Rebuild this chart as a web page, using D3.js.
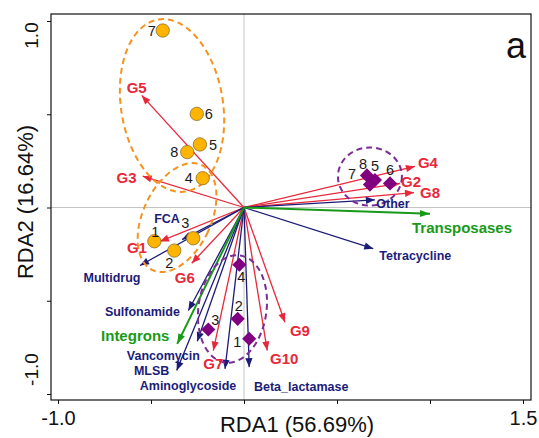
<!DOCTYPE html>
<html>
<head>
<meta charset="utf-8">
<script src="https://cdnjs.cloudflare.com/ajax/libs/d3/7.8.5/d3.min.js"></script>
<style>
  body { margin: 0; background: #fff; }
  svg { display: block; font-family: "Liberation Sans", Arial, sans-serif; }
</style>
</head>
<body>
<div id="chart"></div>
<script>
// Sample scores (two sample groups, 8 samples each)
const sampleIds = [1, 2, 3, 4, 5, 6, 7, 8];
const groupAx = [-0.482, -0.375, -0.273, -0.222, -0.237, -0.254, -0.437, -0.305];
const groupAy = [-0.181, -0.231, -0.165, 0.157, 0.338, 0.502, 0.949, 0.297];
const groupBx = [0.028, -0.034, -0.192, -0.025, 0.704, 0.785, 0.677, 0.661];
const groupBy = [-0.704, -0.597, -0.654, -0.307, 0.147, 0.129, 0.123, 0.172];

// Genera (red arrows)
const genera = ["G1", "G2", "G3", "G4", "G5", "G6", "G7", "G8", "G9", "G10"];
const generaX = [-0.452, 0.839, -0.545, 0.919, -0.550, -0.281, -0.165, 0.914, 0.220, 0.125];
const generaY = [-0.182, 0.129, 0.168, 0.220, 0.601, -0.299, -0.767, 0.080, -0.615, -0.767];

// ARG types (blue arrows)
const argTypes = ["Other", "Tetracycline", "FCA", "Multidrug", "Sulfonamide",
  "Vancomycin", "MLSB", "Aminoglycoside", "Beta_lactamase"];
const argX = [0.704, 0.695, -0.333, -0.559, -0.299, -0.251, -0.362, -0.102, 0.028];
const argY = [0.041, -0.221, -0.172, -0.311, -0.552, -0.717, -0.874, -0.865, -0.856];

// Mobile genetic elements (green arrows)
const mges = ["Transposases", "Integrons"];
const mgeX = [1.000, -0.359];
const mgeY = [-0.034, -0.731];

// Group ellipses: centre, semi-axes (data units), tilt in degrees
const ellipseCx = [-0.387, -0.360, 0.677, -0.062];
const ellipseCy = [0.547, -0.054, 0.166, -0.544];
const ellipseA = [0.274, 0.183, 0.172, 0.183];
const ellipseB = [0.467, 0.311, 0.156, 0.290];
const ellipseTilt = [-9, 25, 0, 8];
const ellipseGroup = ["A", "A", "B", "B"];

// Axis ticks
const xTicks = [-1, -0.5, 0, 0.5, 1, 1.5];
const yTicks = [-1, -0.5, 0, 0.5, 1];
const xTickLabels = ["-1.0", "", "", "", "", "1.5"];
const yTickLabels = ["-1.0", "", "", "", "1.0"];

// label nudges (px) so text sits where the original put it
const nudgeA = [[1, -9], [-5, 12], [-8, -15], [-14, 0], [13, 0], [12, 0], [-11, 0], [-13, 0]];
const nudgeB = [[-12, 3], [1, -13], [7, -10], [2, 12], [0, -14], [0, -14], [-18, -11], [-4, -12]];
const nudgeGenera = [[-23, 6], [11, -2], [-16, 1], [13, -4], [-5, -8], [-7, 14], [0, 13], [16, 0], [15, 8], [17, 8]];
const nudgeArg = [[18, 4], [42, 7], [-15, -21], [-28, 12], [-46, 1], [-34, 14], [-25, 0], [-37, 17], [52, 19]];
const nudgeMge = [[32, 14], [-42, -8]];

const width = 539, height = 438;
const red = "#e8283a", navy = "#1c1c78", green = "#179a17";
const orange = "#f5931e", purple = "#7b2d94";

const x = d3.scaleLinear().domain([-1, 1.5]).range([58, 523]);
const y = d3.scaleLinear().domain([-1, 1]).range([394, 21]);
const box = { left: 51, right: 531, top: 14, bottom: 400 };

const svg = d3.select("#chart").append("svg")
  .attr("width", width)
  .attr("height", height);

// arrowheads
const defs = svg.append("defs");
[["red", red, 9], ["navy", navy, 9], ["green", green, 10]].forEach(([id, col, len]) => {
  defs.append("marker")
    .attr("id", "head-" + id)
    .attr("viewBox", "-12 -6 12 12")
    .attr("refX", 0).attr("refY", 0)
    .attr("markerWidth", 12).attr("markerHeight", 12)
    .attr("markerUnits", "userSpaceOnUse")
    .attr("orient", "auto")
    .append("path")
    .attr("d", `M${-len},-3.6L0,0L${-len},3.6Z`)
    .attr("fill", col);
});

// zero lines
svg.append("line")
  .attr("x1", x(0)).attr("x2", x(0))
  .attr("y1", box.top).attr("y2", box.bottom)
  .attr("stroke", "#c4c4c4").attr("stroke-width", 1);
svg.append("line")
  .attr("x1", box.left).attr("x2", box.right)
  .attr("y1", y(0)).attr("y2", y(0))
  .attr("stroke", "#c4c4c4").attr("stroke-width", 1);

// arrows
function drawArrows(names, xs, ys, col, id, sw) {
  svg.append("g").selectAll("line")
    .data(names)
    .enter()
    .append("line")
    .attr("x1", x(0)).attr("y1", y(0))
    .attr("x2", (d, i) => x(xs[i]))
    .attr("y2", (d, i) => y(ys[i]))
    .attr("stroke", col)
    .attr("stroke-width", sw)
    .attr("marker-end", `url(#head-${id})`);
}
drawArrows(genera, generaX, generaY, red, "red", 1.3);
drawArrows(argTypes, argX, argY, navy, "navy", 1.3);
drawArrows(mges, mgeX, mgeY, green, "green", 2);

// ellipses
svg.append("g").selectAll("ellipse")
  .data(ellipseCx)
  .enter()
  .append("ellipse")
  .attr("transform", (d, i) => `translate(${x(d)},${y(ellipseCy[i])}) rotate(${ellipseTilt[i]})`)
  .attr("rx", (d, i) => x(ellipseA[i]) - x(0))
  .attr("ry", (d, i) => y(0) - y(ellipseB[i]))
  .attr("fill", "none")
  .attr("stroke", (d, i) => ellipseGroup[i] === "A" ? orange : purple)
  .attr("stroke-width", 2)
  .attr("stroke-dasharray", "6,4");

// sample points
svg.append("g").selectAll("path")
  .data(sampleIds)
  .enter()
  .append("path")
  .attr("d", d3.symbol().type(d3.symbolCircle).size(140))
  .attr("transform", (d, i) => `translate(${x(groupAx[i])},${y(groupAy[i])})`)
  .attr("fill", "#ffb400")
  .attr("stroke", "#8a7030")
  .attr("stroke-width", 0.8);

svg.append("g").selectAll("path")
  .data(sampleIds)
  .enter()
  .append("path")
  .attr("d", d3.symbol().type(d3.symbolSquare).size(100))
  .attr("transform", (d, i) => `translate(${x(groupBx[i])},${y(groupBy[i])}) rotate(45)`)
  .attr("fill", "#800080");

// sample labels
function sampleLabels(xs, ys, nudge) {
  svg.append("g").selectAll("text")
    .data(sampleIds)
    .enter()
    .append("text")
    .attr("x", (d, i) => x(xs[i]) + nudge[i][0])
    .attr("y", (d, i) => y(ys[i]) + nudge[i][1])
    .attr("dy", "0.36em")
    .attr("text-anchor", "middle")
    .attr("font-size", 14.5)
    .attr("fill", "#1a1a1a")
    .text(d => d);
}
sampleLabels(groupAx, groupAy, nudgeA);
sampleLabels(groupBx, groupBy, nudgeB);

// arrow labels
function arrowLabels(names, xs, ys, nudge, col, size) {
  svg.append("g").selectAll("text")
    .data(names)
    .enter()
    .append("text")
    .attr("x", (d, i) => x(xs[i]) + nudge[i][0])
    .attr("y", (d, i) => y(ys[i]) + nudge[i][1])
    .attr("dy", "0.36em")
    .attr("text-anchor", "middle")
    .attr("font-size", size)
    .attr("font-weight", "bold")
    .attr("fill", col)
    .text(d => d);
}
arrowLabels(genera, generaX, generaY, nudgeGenera, red, 15);
arrowLabels(argTypes, argX, argY, nudgeArg, navy, 12.5);
arrowLabels(mges, mgeX, mgeY, nudgeMge, green, 15);

// frame
svg.append("rect")
  .attr("x", box.left).attr("y", box.top)
  .attr("width", box.right - box.left)
  .attr("height", box.bottom - box.top)
  .attr("fill", "none")
  .attr("stroke", "#111")
  .attr("stroke-width", 1.2);

// axes
const xAxis = svg.append("g")
  .attr("transform", `translate(0,${box.bottom})`)
  .call(d3.axisBottom(x).tickValues(xTicks).tickSize(4)
    .tickFormat((d, i) => xTickLabels[i]));
xAxis.select(".domain").remove();
xAxis.selectAll("line").attr("stroke", "#111");
xAxis.selectAll("text")
  .attr("font-size", 20)
  .attr("font-family", "Liberation Sans, Arial, sans-serif")
  .attr("fill", "#111")
  .attr("y", 11);

const yAxis = svg.append("g")
  .attr("transform", `translate(${box.left},0)`)
  .call(d3.axisLeft(y).tickValues(yTicks).tickSize(4)
    .tickFormat((d, i) => yTickLabels[i]));
yAxis.select(".domain").remove();
yAxis.selectAll("line").attr("stroke", "#111");
// labels sit inward of their ticks in the original
yAxis.selectAll("text")
  .attr("font-size", 19)
  .attr("font-family", "Liberation Sans, Arial, sans-serif")
  .attr("fill", "#111")
  .attr("x", 0).attr("dy", 0)
  .attr("text-anchor", "middle")
  .attr("transform", d => `translate(-13,${d > 0 ? 14 : -25}) rotate(-90)`);

// axis titles
svg.append("text")
  .attr("x", 297).attr("y", 432)
  .attr("text-anchor", "middle")
  .attr("font-size", 22)
  .attr("fill", "#111")
  .text("RDA1 (56.69%)");
svg.append("text")
  .attr("transform", "translate(33,202) rotate(-90)")
  .attr("text-anchor", "middle")
  .attr("font-size", 22)
  .attr("fill", "#111")
  .text("RDA2 (16.64%)");

// panel letter
svg.append("text")
  .attr("x", 516).attr("y", 58)
  .attr("text-anchor", "middle")
  .attr("font-size", 36)
  .attr("fill", "#111")
  .text("a");
</script>
</body>
</html>
